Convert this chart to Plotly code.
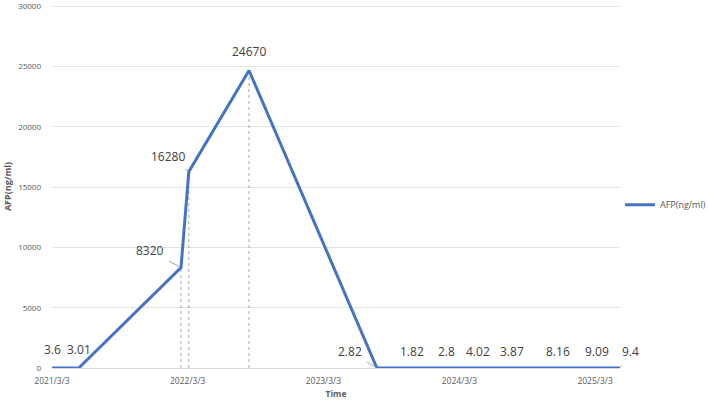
import plotly.graph_objects as go

# ---- data ----
dates = ["2021-03-03", "2021-05-14", "2022-02-13", "2022-03-06", "2022-08-15",
         "2023-07-25", "2023-10-27", "2024-01-27", "2024-04-22", "2024-07-23",
         "2024-11-24", "2025-03-09", "2025-05-09"]
afp = [3.6, 3.01, 8320, 16280, 24670, 2.82, 1.82, 2.8, 4.02, 3.87, 8.16, 9.09, 9.4]
labels = ["3.6", "3.01", "8320", "16280", "24670", "2.82", "1.82", "2.8", "4.02",
          "3.87", "8.16", "9.09", "9.4"]
dashed_idx = [2, 3, 4]  # points with vertical drop lines
tick_dates = ["2021-03-03", "2022-03-03", "2023-03-03", "2024-03-03", "2025-03-03"]
tick_text = ["2021/3/3", "2022/3/3", "2023/3/3", "2024/3/3", "2025/3/3"]
y_ticks = [0, 5000, 10000, 15000, 20000, 25000, 30000]

# label placement (pixel offsets; leader = draw leader line)
label_offsets = {
    0: (0, -18, False), 1: (0, -18, False),
    2: (-31, -17, True), 3: (-21, -15, True), 4: (0, -19, False),
    5: (-27, -16, True), 6: (0, -16, False), 7: (0, -16, False),
    8: (0, -16, False), 9: (0, -16, False), 10: (0, -16, False),
    11: (0, -16, False), 12: (10, -16, True),
}

LINE = "#4472C4"
TXT = "#404040"
FONT = "Open Sans"

fig = go.Figure()

for i in dashed_idx:
    fig.add_trace(go.Scatter(x=[dates[i], dates[i]], y=[0, afp[i]], mode="lines",
                             line=dict(color="#A6A6A6", width=1, dash="dot"),
                             showlegend=False, hoverinfo="skip"))

fig.add_trace(go.Scatter(x=dates, y=afp, mode="lines", name="AFP(ng/ml)",
                         line=dict(color=LINE, width=3)))

for i, (d, v, t) in enumerate(zip(dates, afp, labels)):
    ax, ay, leader = label_offsets[i]
    if leader:
        fig.add_annotation(x=d, y=v, text=t, showarrow=True, arrowhead=0,
                           arrowwidth=1, arrowcolor="#A6A6A6", ax=ax, ay=ay,
                           standoff=1, startstandoff=4,
                           font=dict(family=FONT, size=12, color=TXT))
    else:
        fig.add_annotation(x=d, y=v, text=t, showarrow=False, xshift=ax, yshift=-ay,
                           font=dict(family=FONT, size=12, color=TXT))

fig.update_layout(
    width=709, height=402,
    margin=dict(l=52, r=89, t=5, b=34, autoexpand=False),
    paper_bgcolor="white", plot_bgcolor="white",
    font=dict(family=FONT, color="#595959"),
    showlegend=True,
    legend=dict(x=1.0, xanchor="left", y=0.45, yanchor="middle", itemwidth=30,
                font=dict(family=FONT, size=9, color="#595959")),
    xaxis=dict(range=[dates[0], dates[-1]], tickvals=tick_dates, ticktext=tick_text,
               showgrid=False, zeroline=False, showline=False, ticks="",
               ticklabelstandoff=6,
               tickfont=dict(size=8.5, color="#595959"),
               title=dict(text="<b>Time</b>", font=dict(size=8.5, color="#595959"), standoff=6)),
    yaxis=dict(range=[0, 30100], tickvals=y_ticks, ticktext=[str(v) for v in y_ticks],
               showgrid=True, gridcolor="#E3E3E3",
               gridwidth=1, zeroline=True, zerolinecolor="#D9D9D9", zerolinewidth=1,
               ticks="", ticklabelstandoff=10,
               tickfont=dict(size=8, color="#595959"),
               title=dict(text="<b>AFP(ng/ml)</b>", font=dict(size=9, color="#595959"), standoff=4)),
)

fig.write_html("out.html")
